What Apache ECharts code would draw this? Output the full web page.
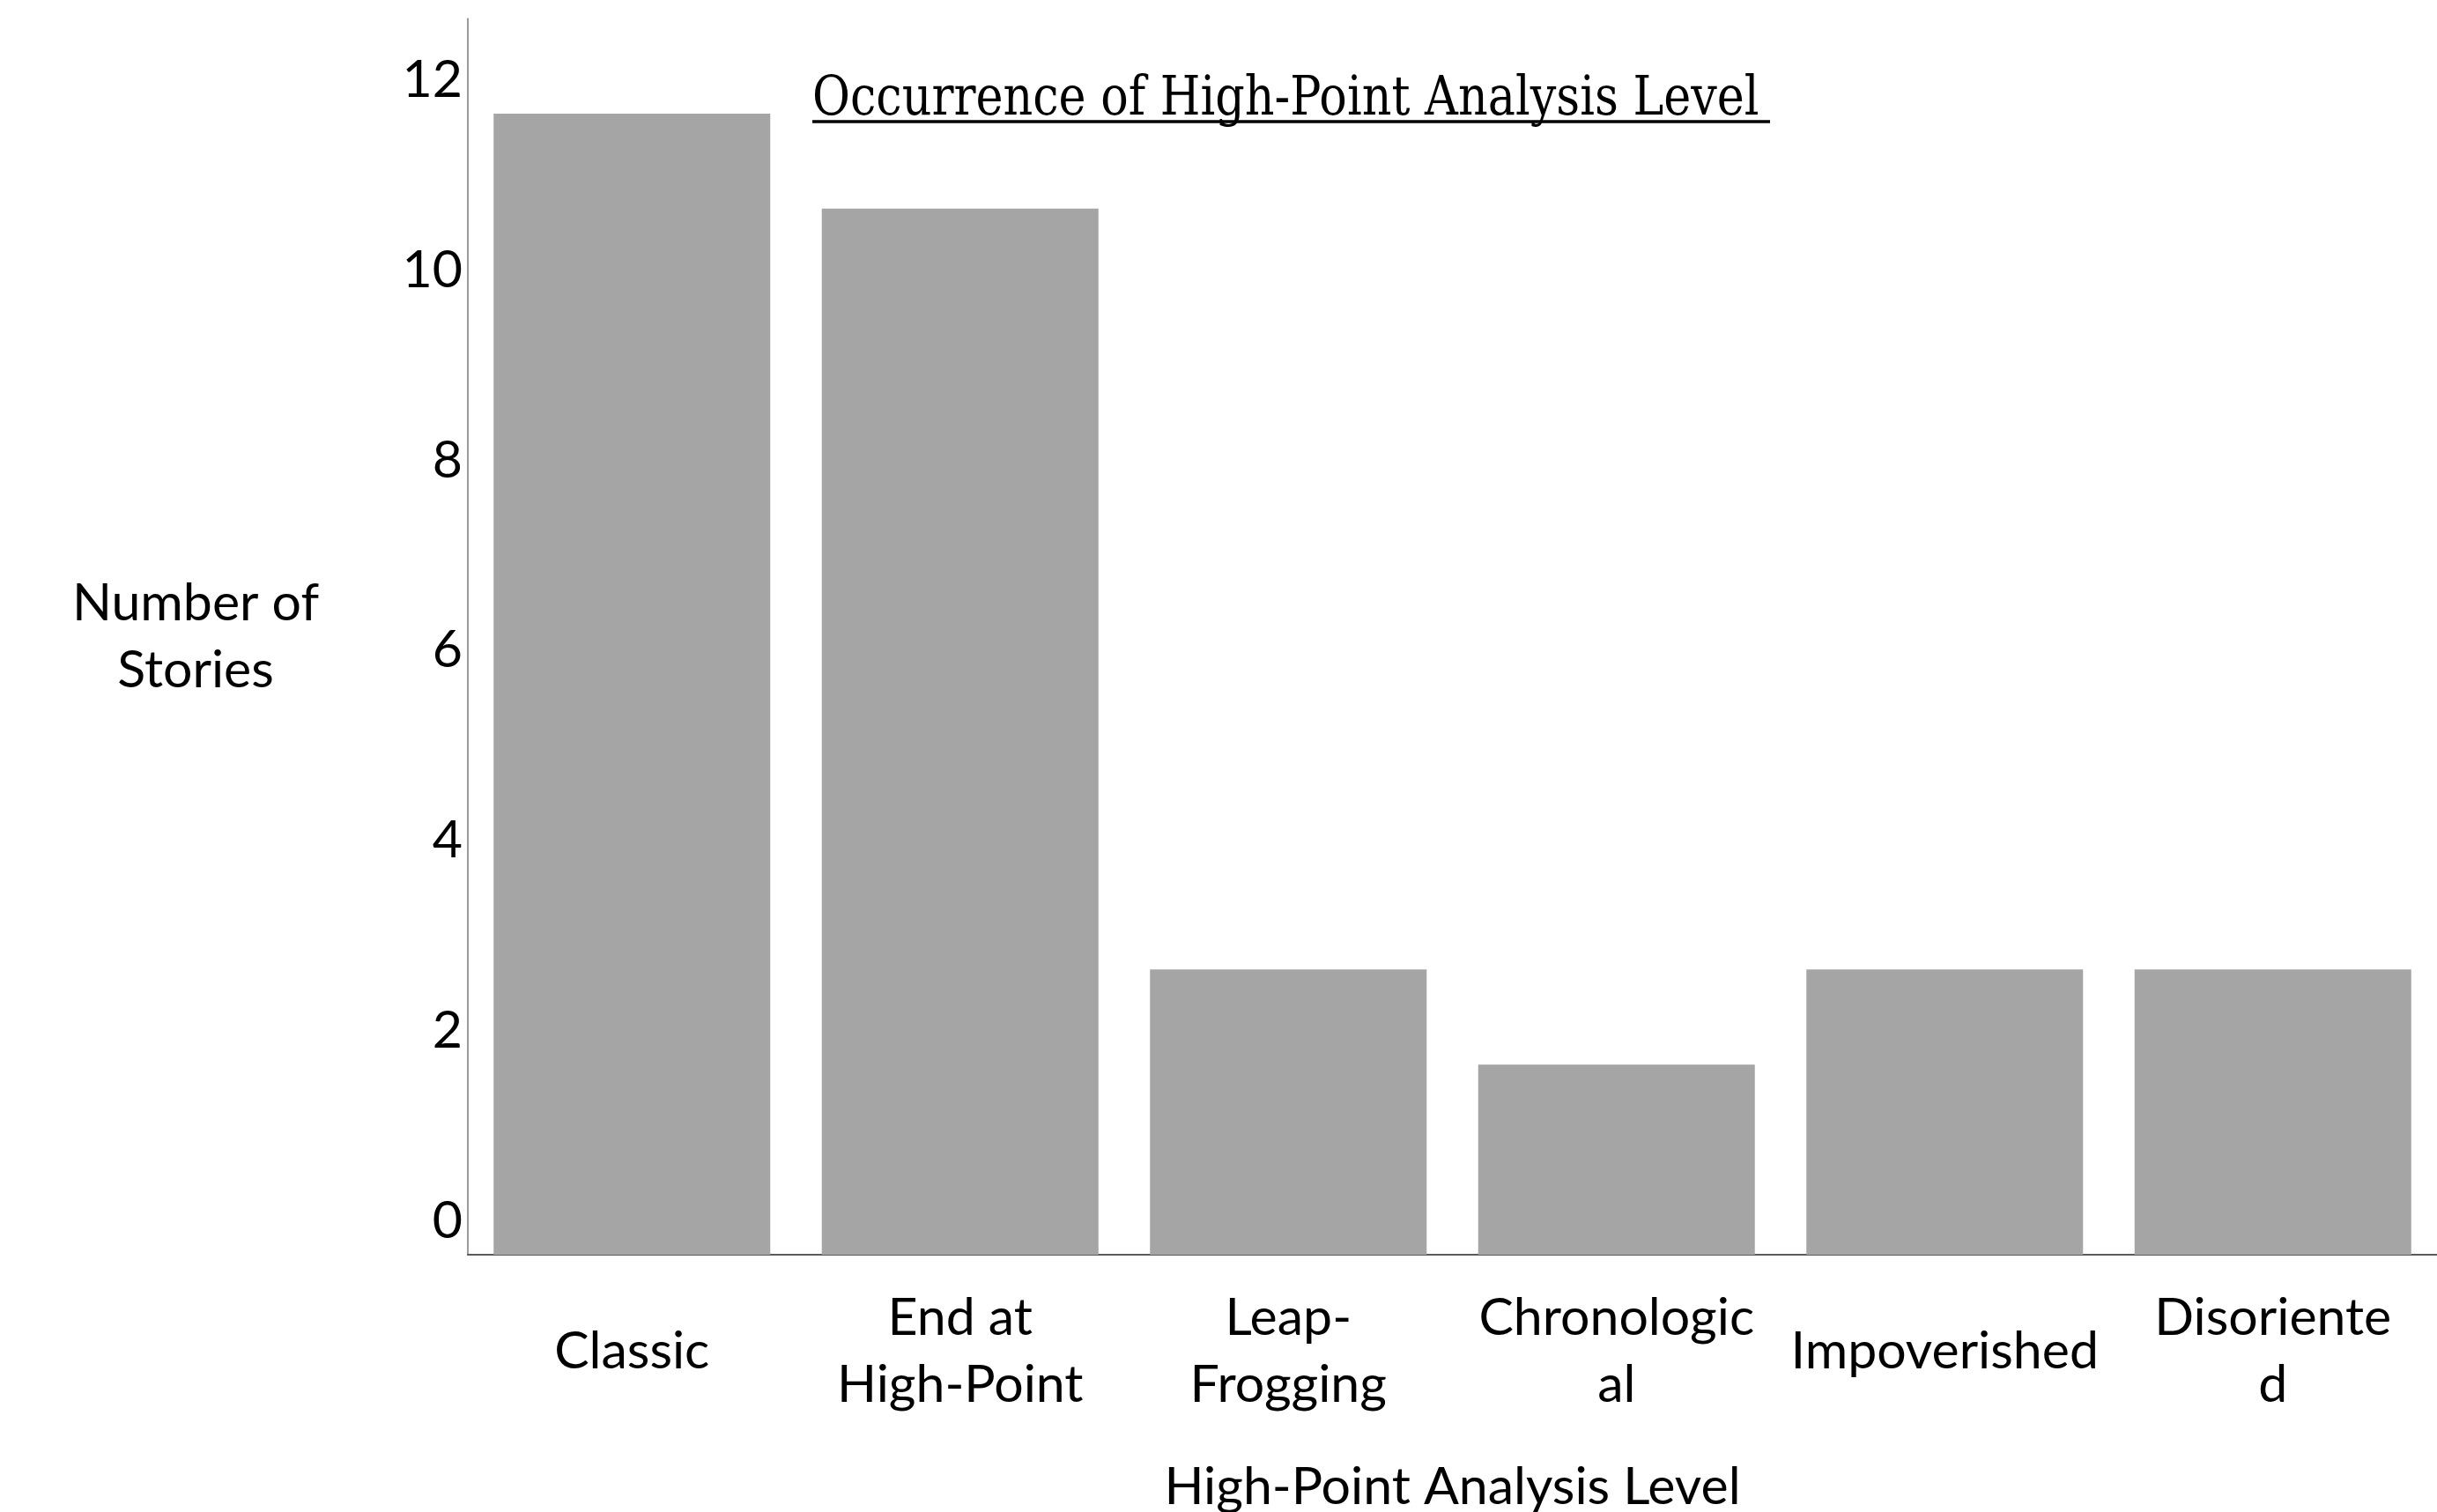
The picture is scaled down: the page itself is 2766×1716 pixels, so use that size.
<!DOCTYPE html>
<html>
<head>
<meta charset="utf-8">
<script src="https://cdn.jsdelivr.net/npm/echarts@6/dist/echarts.min.js"></script>
<style>
html,body{margin:0;padding:0;background:#fff;}
#chart{width:2766px;height:1716px;}
</style>
</head>
<body>
<div id="chart"></div>
<script>
const categories = ['Classic', 'End at\nHigh-Point', 'Leap-\nFrogging', 'Chronologic\nal', 'Impoverished', 'Disoriente\nd'];
const storyCounts = [12, 11, 3, 2, 3, 3];
const yTickValues = [0, 2, 4, 6, 8, 10, 12];
const chartTitle = 'Occurrence of High-Point Analysis Level';
const xAxisName = 'High-Point Analysis Level';
const yAxisName = 'Number of\nStories';

const chart = echarts.init(document.getElementById('chart'));
const sansFont = 'Lato';
chart.setOption({
  animation: false,
  backgroundColor: '#ffffff',
  grid: { left: 531, right: 0, top: 21, bottom: 292, containLabel: false, outerBoundsMode: 'none' },
  xAxis: {
    type: 'category',
    data: categories,
    name: xAxisName,
    nameLocation: 'middle',
    nameGap: 234,
    nameTextStyle: { fontFamily: sansFont, fontSize: 59, color: '#000' },
    axisLine: { show: true, lineStyle: { color: '#595959', width: 2 } },
    axisTick: { show: false },
    axisLabel: {
      interval: 0,
      fontFamily: sansFont, fontSize: 59, color: '#000',
      lineHeight: 76, align: 'center', verticalAlign: 'middle', margin: 110
    },
    splitLine: { show: false }
  },
  yAxis: {
    type: 'value',
    min: 0, max: 13, interval: 1,
    name: yAxisName,
    nameLocation: 'middle',
    nameRotate: 0,
    nameGap: 309,
    nameTextStyle: { fontFamily: sansFont, fontSize: 59, color: '#000', align: 'center', lineHeight: 76 },
    axisLine: { show: true, lineStyle: { color: '#7a7a7a', width: 1.5 } },
    axisTick: { show: false },
    splitLine: { show: false },
    axisLabel: {
      fontFamily: sansFont, fontSize: 59, color: '#000', margin: 6,
      verticalAlign: 'bottom', lineHeight: 76,
      formatter: function (v) { return yTickValues.indexOf(v) >= 0 ? String(v) : ''; }
    }
  },
  series: [{
    type: 'bar',
    data: storyCounts,
    barWidth: 314,
    itemStyle: { color: '#a5a5a5' }
  }],
  graphic: [
    {
      type: 'text',
      x: 922, y: 114,
      scaleX: 0.845,
      style: {
        text: chartTitle, font: '62px "DejaVu Serif"', fill: '#000',
        align: 'left', verticalAlign: 'middle', textAlign: 'left', textVerticalAlign: 'middle'
      }
    },
    {
      type: 'line',
      shape: { x1: 922, y1: 138, x2: 2009, y2: 138 },
      style: { stroke: '#000', lineWidth: 3.5 }
    }
  ]
});
</script>
</body>
</html>
